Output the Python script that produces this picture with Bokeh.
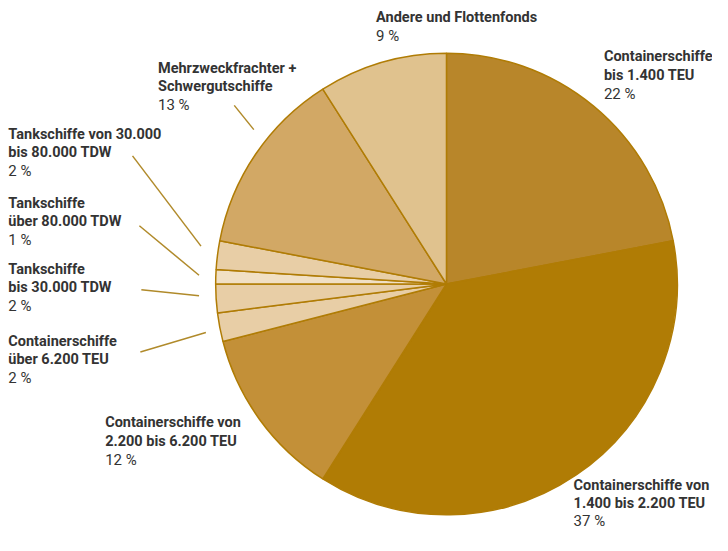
import math
from bokeh.plotting import figure
from bokeh.models import Range1d, ColumnDataSource
from bokeh.core.properties import value
from bokeh.embed import file_html
from bokeh.resources import INLINE

# Data (clockwise from 12 o'clock)
categories = [
    "Containerschiffe\nbis 1.400 TEU",
    "Containerschiffe von\n1.400 bis 2.200 TEU",
    "Containerschiffe von\n2.200 bis 6.200 TEU",
    "Containerschiffe\nüber 6.200 TEU",
    "Tankschiffe\nbis 30.000 TDW",
    "Tankschiffe\nüber 80.000 TDW",
    "Tankschiffe von 30.000\nbis 80.000 TDW",
    "Mehrzweckfrachter +\nSchwergutschiffe",
    "Andere und Flottenfonds",
]
shares = [22, 37, 12, 2, 2, 1, 2, 13, 9]
colors = ["#B8862A", "#B07C05", "#C39038", "#E8CEA6", "#E8CEA6",
          "#F1E0C5", "#E8CEA6", "#D2A865", "#E0C28E"]

W, H = 712, 535
RW, RH = 728, 551  # layout coordinate space


def px(x):
    return x


def py(y):
    return RH - y


p = figure(width=W, height=H, output_backend="svg", toolbar_location=None,
           x_range=Range1d(0, RW), y_range=Range1d(0, RH), min_border=0)
p.axis.visible = False
p.grid.visible = False
p.outline_line_color = None
p.background_fill_color = "white"
p.border_fill_color = "white"

cx, cy, r = px(456), py(292), 236
total = sum(shares)
starts, ends = [], []
cum = 0.0
for s in shares:
    c0 = cum / total
    cum += s
    c1 = cum / total
    starts.append(math.radians(90 - 360 * c1))
    ends.append(math.radians(90 - 360 * c0))

src = ColumnDataSource(dict(start=starts, end=ends, color=colors))
p.wedge(x=cx, y=cy, radius=r, start_angle="start", end_angle="end",
        fill_color="color", line_color="#B07C05", line_width=1.5, source=src)

# label anchors (layout px: left x, first-line centre y)
label_pos = [(617, 58), (586, 500), (107, 435), (8, 351), (8, 277),
             (8, 209), (8, 138), (161, 70), (384, 18)]
line_h = 19

nx, ny, nt, sx, sy, st = [], [], [], [], [], []
for cat, s, (lx, ly) in zip(categories, shares, label_pos):
    lines = cat.split("\n")
    lh = 18 if s == 37 else line_h
    for i, ln in enumerate(lines):
        nx.append(px(lx)); ny.append(py(ly + i * lh)); nt.append(ln)
    sx.append(px(lx)); sy.append(py(ly + len(lines) * lh)); st.append(f"{s} %")

p.text(x=nx, y=ny, text=nt, text_font=value("Roboto"), text_font_style="bold",
       text_font_size="14.5px", text_color="#333333", text_baseline="middle",
       text_align="left")
p.text(x=sx, y=sy, text=st, text_font=value("Roboto"), text_font_style="normal",
       text_font_size="15px", text_color="#333333", text_baseline="middle",
       text_align="left")

# leader lines (layout px)
leaders = [((135, 160), (205, 253)), ((142, 232), (203, 283)),
           ((144, 298), (203, 304)), ((143, 362), (210, 342)),
           ((239, 108), (259, 133))]
p.segment(x0=[px(a[0]) for a, b in leaders], y0=[py(a[1]) for a, b in leaders],
          x1=[px(b[0]) for a, b in leaders], y1=[py(b[1]) for a, b in leaders],
          line_color="#B08A2A", line_width=1.5)

open("out.html", "w").write(file_html(p, INLINE))
